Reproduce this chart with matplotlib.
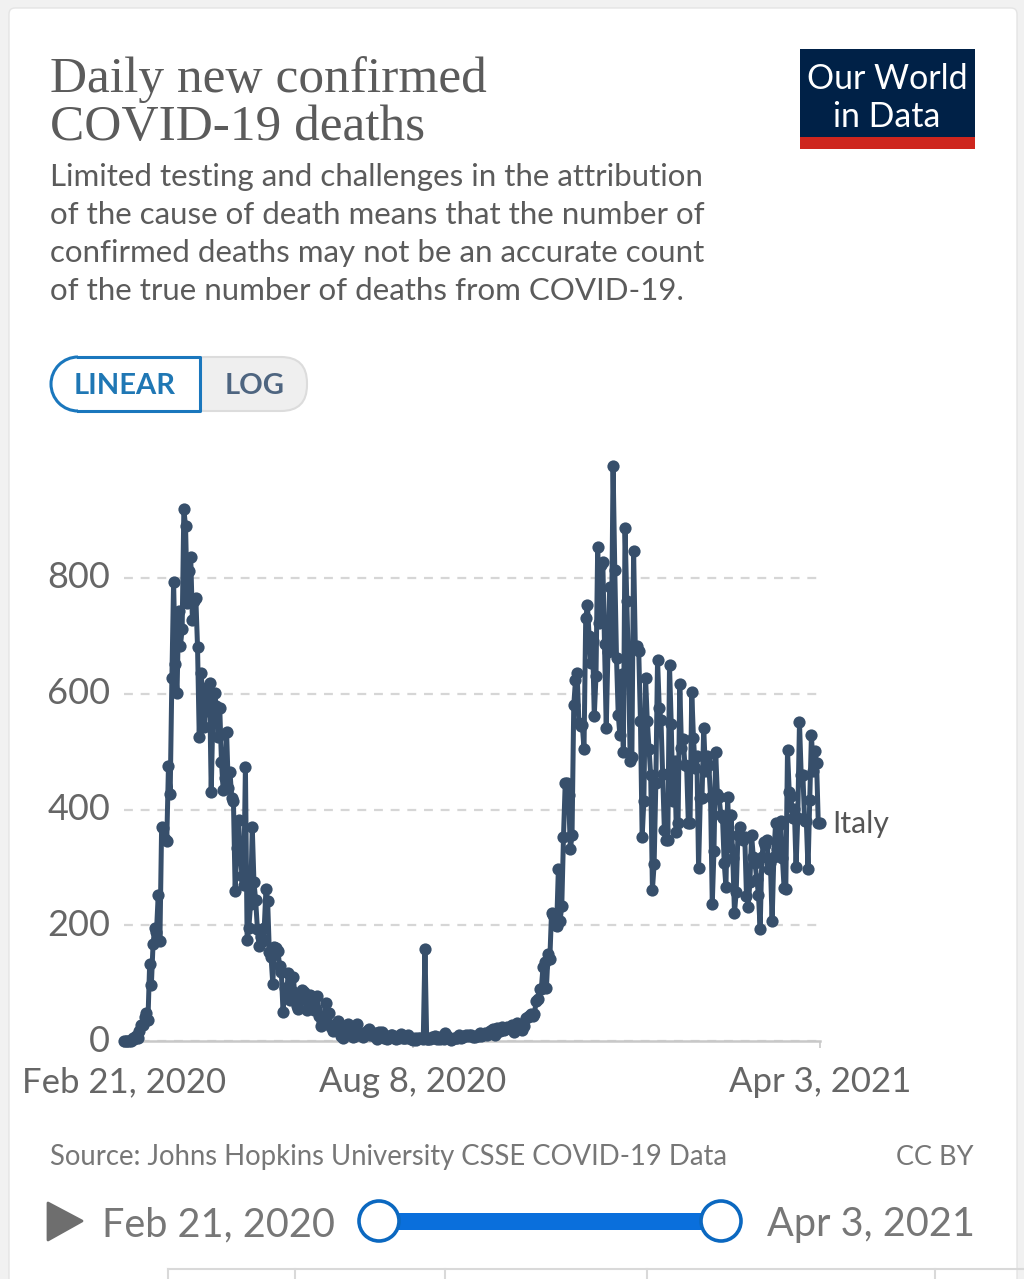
import matplotlib
matplotlib.use("Agg")
import matplotlib.pyplot as plt
from matplotlib.patches import FancyBboxPatch, Rectangle, Polygon, Circle, Arc
import pandas as pd

# ----
# Daily values, in rough month blocks
# ----
feb_2020 = [0, 0, 0, 0, 0, 5, 4]
mar_2020 = [8, 5, 18, 27, 28, 41, 49, 36, 133, 97, 168, 196, 189, 252, 173, 370, 368, 349, 345, 475, 427, 627, 793, 651, 601, 743, 683, 712, 919, 889, 756]
apr_2020 = [812, 837, 727, 760, 766, 681, 525, 636, 604, 542, 610, 570, 619, 431, 566, 602, 578, 525, 575, 482, 433, 454, 534, 437, 464, 420, 415, 260, 333, 382]
may_2020 = [323, 285, 269, 474, 174, 195, 236, 369, 274, 243, 194, 165, 179, 172, 195, 262, 242, 153, 145, 99, 162, 161, 156, 130, 119, 50, 92, 78, 117, 70, 87]
jun_2020 = [111, 75, 60, 55, 71, 88, 85, 72, 53, 65, 79, 71, 53, 56, 78, 44, 26, 34, 43, 66, 47, 49, 24, 18, 23, 30, 34, 30, 8, 6]
jul_2020 = [23, 21, 30, 15, 21, 7, 8, 30, 15, 12, 12, 7, 13, 17, 20, 11, 13, 9, 13, 3, 15, 9, 15, 5, 5, 4, 5, 11, 11, 6, 3, 8, 6]
aug_2020 = [12, 5, 5, 6, 10, 6, 3, 2, 5, 2, 6, 6, 6, 3, 159, 4, 3, 4, 7, 6, 9, 3, 7, 4, 5, 4, 13, 9, 5, 1, 4]
sep_2020 = [6, 6, 6, 10, 6, 7, 8, 10, 8, 10, 11, 7, 7, 9, 9, 14, 9, 10, 13, 10, 14, 17, 19, 20, 10, 23, 17, 18, 24, 19, 21]
oct_2020 = [24, 23, 22, 27, 16, 28, 31, 22, 28, 19, 26, 39, 41, 43, 47, 43, 47, 69, 73, 89, 89, 127, 136, 91, 151, 141, 221, 217, 201, 199, 297]
nov_2020 = [208, 233, 353, 445, 445, 425, 331, 356, 580, 623, 636, 550, 544, 546, 504, 731, 753, 699, 653, 692, 562, 630, 853, 722, 822, 827, 686, 541, 672, 785]
dec_2020 = [684, 993, 814, 662, 564, 528, 634, 499, 887, 761, 649, 484, 491, 846, 680, 683, 674, 553, 352, 415, 628, 553, 505, 459, 261, 305, 445, 659, 575, 555, 462]
jan_2021 = [364, 347, 348, 649, 548, 414, 483, 361, 376, 616, 507, 522, 477, 475, 377, 377, 603, 524, 472, 492, 299, 420, 420, 541, 467, 492, 477, 421, 237, 329]
feb_2021 = [499, 426, 421, 391, 385, 307, 266, 422, 336, 391, 316, 221, 258, 356, 369, 353, 347, 353, 251, 232, 274, 356, 318, 308, 280, 253, 194, 318]
mar_2021 = [343, 339, 347, 297, 307, 207, 318, 376, 332, 373, 380, 317, 264, 263, 502, 431, 423, 386, 401, 300, 386, 551, 460, 460, 380, 380, 297, 417, 529, 467, 501]
apr_2021 = [480, 376, 376]

deaths = (feb_2020 + mar_2020 + apr_2020 + may_2020 + jun_2020 + jul_2020 + aug_2020
          + sep_2020 + oct_2020 + nov_2020 + dec_2020 + jan_2021 + feb_2021 + mar_2021 + apr_2021)
dates = pd.date_range("2020-02-21", periods=len(deaths), freq="D")

y_ticks = [0, 200, 400, 600, 800]
x_ticks = pd.to_datetime(["2020-02-21", "2020-08-08", "2021-04-03"])
x_labels = ["Feb 21, 2020", "Aug 8, 2020", "Apr 3, 2021"]

title_lines = ["Daily new confirmed", "COVID-19 deaths"]
subtitle_lines = ["Limited testing and challenges in the attribution",
                  "of the cause of death means that the number of",
                  "confirmed deaths may not be an accurate count",
                  "of the true number of deaths from COVID-19."]

W, H = 1024, 1279
LINE = "#374f6b"
GREY = "#5b5b5b"
plt.rcParams["font.family"] = ["Lato", "DejaVu Sans"]

fig = plt.figure(figsize=(W / 100, H / 100), dpi=100, facecolor="#f1f1f1")

# ----
# Overlay in pixel coordinates for the page furniture
# ----
bg = fig.add_axes([0, 0, 1, 1], zorder=0)
bg.set_xlim(0, W)
bg.set_ylim(H, 0)
bg.axis("off")
bg.add_patch(FancyBboxPatch((9, 8), 1008, 1290, boxstyle="round,pad=0,rounding_size=6",
                            fc="white", ec="#e4e4e4", lw=1))

for txt, y in zip(title_lines, [92, 140]):
    bg.text(50, y, txt, family="Liberation Serif", fontsize=37, color="#5b5b5b", va="baseline")
for txt, y in zip(subtitle_lines, [186, 224, 262, 300]):
    bg.text(50, y, txt, fontsize=22.5, color=GREY, va="baseline")

# logo
bg.add_patch(Rectangle((800, 49), 175, 88, fc="#002147", ec="none"))
bg.add_patch(Rectangle((800, 137), 175, 12, fc="#ce261e", ec="none"))
bg.text(887, 89, "Our World", fontsize=24.4, color="white", ha="center", va="baseline")
bg.text(887, 127, "in Data", fontsize=24.4, color="white", ha="center", va="baseline")

# linear / log toggle
bg.add_patch(FancyBboxPatch((180, 357), 127, 54, boxstyle="round,pad=0,rounding_size=26",
                            fc="#efefef", ec="#dcdcdc", lw=1.5))
bg.add_patch(Rectangle((78, 357), 122, 54, fc="white", ec="none"))
bg.add_patch(Arc((78, 384), 54, 54, theta1=90, theta2=270, color="#1a77bd", lw=2.2))
bg.plot([78, 200, 200, 78], [357, 357, 411, 411], color="#1a77bd", lw=2.2)
bg.text(125, 394, "LINEAR", fontsize=21, fontweight="bold", color="#1f77b4", ha="center", va="baseline")
bg.text(255, 394, "LOG", fontsize=21, fontweight="bold", color="#4e6580", ha="center", va="baseline")

# source row
bg.text(50, 1165, "Source: Johns Hopkins University CSSE COVID-19 Data", fontsize=19.85, color="#777777", va="baseline")
bg.text(974, 1165, "CC BY", fontsize=19.5, color="#777777", ha="right", va="baseline")

# timeline
bg.add_patch(Polygon([(48, 1203), (48, 1240), (82, 1221)], closed=True, fc="#6e6e6e", ec="#6e6e6e", lw=2, joinstyle="round"))
bg.text(102, 1236, "Feb 21, 2020", fontsize=28.5, color="#777777", va="baseline")
bg.text(975, 1236, "Apr 3, 2021", fontsize=28.5, color="#777777", ha="right", va="baseline")
bg.add_patch(Rectangle((385, 1213), 330, 17, fc="#0a6fdc", ec="none"))
for cx in [379, 721]:
    bg.add_patch(Circle((cx, 1221), 20, fc="white", ec="#0b68c0", lw=2.6, zorder=3))

# table tabs cut off at the bottom
bg.plot([168, 1024], [1269, 1269], color="#d9d9d9", lw=1.5)
for vx in [168, 295, 445, 647, 935]:
    bg.plot([vx, vx], [1269, 1279], color="#d9d9d9", lw=1.5)

# ----
# Chart axes: 124-820 px across, y=0 at 1041 px
# ----
px_per_unit = (1041 - 578) / 800.0
top_px = 440
ymax = (1041 - top_px) / px_per_unit
ax = fig.add_axes([124 / W, 1 - 1041 / H, (820 - 124) / W, (1041 - top_px) / H], zorder=1)
ax.patch.set_alpha(0)
ax.plot(dates, deaths, color=LINE, lw=3.6, marker="o", ms=8.8, mew=0, clip_on=False, zorder=3, solid_joinstyle="round")
ax.set_xlim(dates[0], dates[-1])
ax.set_ylim(0, ymax)
ax.set_yticks(y_ticks)
ax.set_yticklabels([str(v) for v in y_ticks], fontsize=26, color="#666666")
ax.set_xticks(x_ticks)
ax.set_xticklabels(x_labels, fontsize=25, color="#666666")
ax.tick_params(axis="y", length=0, pad=10)
ax.tick_params(axis="x", length=5, width=1.2, color="#c8c8c8", pad=13)
for label in ax.get_yticklabels():
    label.set_va("center")
ax.grid(axis="y", color="#d6d6d6", lw=1.6, ls=(0, (4, 3.5)), zorder=0)
ax.grid(axis="x", visible=False)
for side in ["top", "left", "right"]:
    ax.spines[side].set_visible(False)
ax.spines["bottom"].set_color("#c8c8c8")
ax.spines["bottom"].set_linewidth(1.8)
ax.annotate("Italy", xy=(dates[-1], deaths[-1]), xytext=(8.5, -0.5), textcoords="offset points",
            fontsize=21.7, color="#555555", ha="left", va="center", annotation_clip=False)

fig.savefig("out.png", dpi=100, facecolor=fig.get_facecolor())
